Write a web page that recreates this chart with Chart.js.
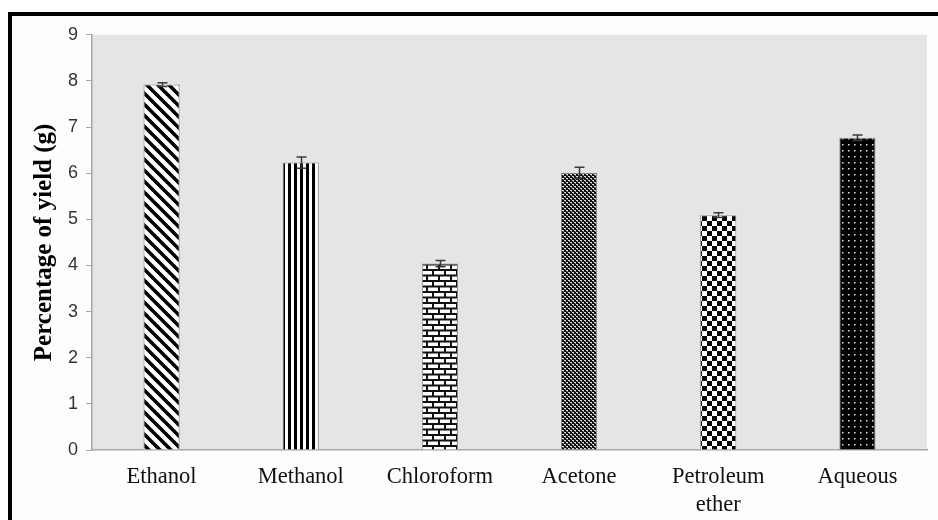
<!DOCTYPE html>
<html>
<head>
<meta charset="utf-8">
<script src="https://cdn.jsdelivr.net/npm/chart.js@4.4.0/dist/chart.umd.min.js"></script>
<style>
    html, body { margin: 0; padding: 0; background: #fff; }
    #frame {
        position: absolute;
        left: 8px;
        top: 12px;
        width: 926px;
        height: 504px;
        border-top: 4px solid #000;
        border-left: 4px solid #000;
        background: #fdfdfd;
    }
</style>
</head>
<body>
<div id="frame"><canvas id="yieldChart" width="926" height="504"></canvas></div>
<script>
const solvents = ['Ethanol', 'Methanol', 'Chloroform', 'Acetone', ['Petroleum', 'ether'], 'Aqueous'];
const yieldValues = [7.92, 6.23, 4.04, 6.01, 5.09, 6.77];
const yieldErrors = [0.04, 0.12, 0.07, 0.12, 0.05, 0.06];
const yTicks = [0, 1, 2, 3, 4, 5, 6, 7, 8, 9];

function makeTile(w, h, draw) {
    const c = document.createElement('canvas');
    c.width = w;
    c.height = h;
    const g = c.getContext('2d');
    draw(g, w, h);
    return document.createElement('canvas').getContext('2d').createPattern(c, 'repeat');
}

function buildPatterns() {
    // wide downward diagonal
    const diag = makeTile(11, 11, (g, w, h) => {
        g.fillStyle = '#fff';
        g.fillRect(0, 0, w, h);
        g.strokeStyle = '#000';
        g.lineWidth = 3.6;
        [-11, 0, 11].forEach(o => {
            g.beginPath();
            g.moveTo(o - 1, -1);
            g.lineTo(o + w + 1, h + 1);
            g.stroke();
        });
    });
    // vertical stripes
    const vert = makeTile(6, 6, (g) => {
        g.fillStyle = '#fff';
        g.fillRect(0, 0, 6, 6);
        g.fillStyle = '#000';
        g.fillRect(0, 0, 3, 6);
    });
    // brick
    const brick = makeTile(12, 11, (g) => {
        g.fillStyle = '#fff';
        g.fillRect(0, 0, 12, 11);
        g.fillStyle = '#111';
        g.fillRect(0, 0, 12, 2);
        g.fillRect(0, 5.5, 12, 2);
        g.fillRect(0, 0, 2, 6);
        g.fillRect(6, 6, 2, 5);
    });
    // small dense grid
    const dense = makeTile(4, 4, (g) => {
        g.fillStyle = '#111';
        g.fillRect(0, 0, 4, 4);
        g.fillStyle = '#ddd';
        g.fillRect(0, 0, 2, 1);
        g.fillRect(2, 2, 2, 1);
        g.fillStyle = '#888';
        g.fillRect(1, 1, 1, 1);
        g.fillRect(3, 3, 1, 1);
    });
    // checkerboard
    const checker = makeTile(10, 10, (g) => {
        g.fillStyle = '#fff';
        g.fillRect(0, 0, 10, 10);
        g.fillStyle = '#000';
        g.fillRect(0, 0, 5, 5);
        g.fillRect(5, 5, 5, 5);
    });
    // black with white dots
    const dots = makeTile(6, 6, (g) => {
        g.fillStyle = '#000';
        g.fillRect(0, 0, 6, 6);
        g.fillStyle = '#e8e8e8';
        g.fillRect(2, 2, 1.5, 1.5);
    });
    return [diag, vert, brick, dense, checker, dots];
}

const plotBackground = {
    id: 'plotBackground',
    beforeDraw(chart) {
        const { ctx, chartArea: a } = chart;
        ctx.save();
        ctx.fillStyle = '#e5e5e5';
        ctx.fillRect(a.left, a.top, a.right - a.left, a.bottom - a.top);
        ctx.restore();
    }
};

const errorBars = {
    id: 'errorBars',
    afterDatasetsDraw(chart) {
        const { ctx } = chart;
        const y = chart.scales.y;
        const meta = chart.getDatasetMeta(0);
        ctx.save();
        ctx.strokeStyle = '#3a3a3a';
        ctx.lineWidth = 1.5;
        meta.data.forEach((bar, i) => {
            const top = y.getPixelForValue(yieldValues[i] + yieldErrors[i]);
            const bottom = y.getPixelForValue(yieldValues[i] - yieldErrors[i]);
            const x = Math.round(bar.x) + 0.5;
            ctx.beginPath();
            ctx.moveTo(x, top);
            ctx.lineTo(x, bottom);
            ctx.moveTo(x - 5, top);
            ctx.lineTo(x + 5, top);
            ctx.moveTo(x - 5, bottom);
            ctx.lineTo(x + 5, bottom);
            ctx.stroke();
        });
        ctx.restore();
    }
};

new Chart(document.getElementById('yieldChart'), {
    type: 'bar',
    data: {
        labels: solvents,
        datasets: [{
            data: yieldValues,
            backgroundColor: buildPatterns(),
            borderColor: '#8a8a8a',
            borderWidth: 1,
            barPercentage: 0.26,
            categoryPercentage: 1
        }]
    },
    options: {
        responsive: false,
        animation: false,
        events: [],
        layout: { padding: { left: 0, top: 18, right: 11, bottom: 0 } },
        plugins: {
            legend: { display: false },
            tooltip: { enabled: false }
        },
        scales: {
            x: {
                grid: { display: false, drawTicks: false },
                border: { display: true, color: '#a8a8a8', width: 1.5 },
                ticks: {
                    color: '#111',
                    padding: 13,
                    maxRotation: 0,
                    autoSkip: false,
                    font: { family: '"Liberation Serif", "Times New Roman", serif', size: 22.5, lineHeight: 1.25 }
                },
                afterFit(scale) { scale.height = 70; }
            },
            y: {
                min: 0,
                max: 9,
                afterBuildTicks(scale) { scale.ticks = yTicks.map(v => ({ value: v })); },
                grid: { drawOnChartArea: false, drawTicks: true, tickLength: 6, color: '#a8a8a8' },
                border: { display: true, color: '#a8a8a8', width: 1.5 },
                ticks: {
                    color: '#333',
                    padding: 8,
                    font: { family: '"Liberation Sans", Arial, sans-serif', size: 18 }
                },
                title: {
                    display: true,
                    text: 'Percentage of yield (g)',
                    color: '#000',
                    padding: { top: 18, bottom: 0 },
                    font: { family: '"Liberation Serif", "Times New Roman", serif', size: 25, weight: 'bold' }
                },
                afterFit(scale) { scale.width = 80; }
            }
        }
    },
    plugins: [plotBackground, errorBars]
});
</script>
</body>
</html>
